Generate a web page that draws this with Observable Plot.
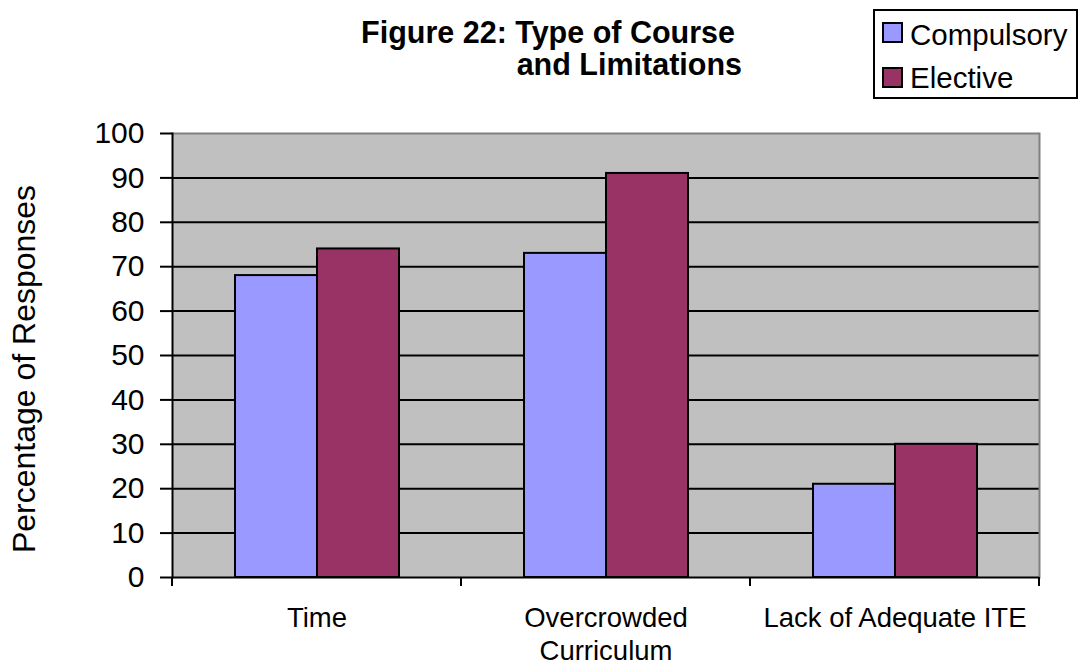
<!DOCTYPE html>
<html>
<head>
<meta charset="utf-8">
<script src="https://cdn.jsdelivr.net/npm/d3@7"></script>
<script src="https://cdn.jsdelivr.net/npm/@observablehq/plot@0.6"></script>
<style>
  body { margin: 0; background: #fff; font-family: Arial, "Liberation Sans", sans-serif; }
  #wrap { position: relative; width: 1080px; height: 663px; overflow: hidden; }
  #chart { position: absolute; left: 0; top: 0; }
  .title { position: absolute; font-weight: bold; font-size: 30.5px; line-height: 34px; white-space: nowrap; color: #000; }
  #legendBox { position: absolute; left: 873px; top: 9px; width: 205px; height: 90px; border: 2px solid #000; background: #fff; box-sizing: border-box; }
  .sw { position: absolute; width: 21px; height: 21px; border: 2px solid #000; box-sizing: border-box; }
  .lgt { position: absolute; font-size: 29.5px; line-height: 30px; white-space: nowrap; color: #000; }
  #ylabel { position: absolute; left: 24px; top: 369px; transform: translate(-50%, -50%) rotate(-90deg); font-size: 32px; white-space: nowrap; }
</style>
</head>
<body>
<div id="wrap">
  <div id="chart"></div>
  <div id="ylabel"></div>
  <div id="titleBox"></div>
  <div id="legendBox"></div>
  <div id="legendItems"></div>
</div>
<script>
const titleLines = ["Figure 22: Type of Course", "and Limitations"];
const yLabel = "Percentage of Responses";
const categories = ["Time", "Overcrowded\nCurriculum", "Lack of Adequate ITE"];
const series = ["Compulsory", "Elective"];
const compulsory = [68, 73, 21];
const elective = [74, 91, 30];
const yTicks = [0, 10, 20, 30, 40, 50, 60, 70, 80, 90, 100];
const colors = ["#9999FF", "#993366"];

const data = categories.flatMap((c, i) => [
  {category: c, series: series[0], value: compulsory[i]},
  {category: c, series: series[1], value: elective[i]}
]);

const plot = Plot.plot({
  width: 1080,
  height: 663,
  marginTop: 133,
  marginBottom: 86,
  marginLeft: 171,
  marginRight: 40,
  style: {fontFamily: "Arial, 'Liberation Sans', sans-serif", color: "#000", background: "transparent", overflow: "visible"},
  fx: {domain: categories, padding: 0, label: null},
  x: {domain: series, paddingInner: 0, paddingOuter: 0.75, axis: null},
  y: {domain: [0, 100], label: null},
  color: {domain: series, range: colors},
  marks: [
    Plot.frame({fill: "#C0C0C0", stroke: "none", shapeRendering: "crispEdges"}),
    Plot.gridY(yTicks.filter(v => v > 0 && v < 100), {stroke: "#000", strokeOpacity: 1, strokeWidth: 2}),
    Plot.ruleY([100], {stroke: "#808080", strokeWidth: 2}),
    Plot.frame({anchor: "right", facetAnchor: "right", stroke: "#808080", strokeWidth: 2}),
    Plot.barY(data, {fx: "category", x: "series", y: "value", fill: "series", stroke: "#000", strokeWidth: 2}),
    Plot.ruleY([0], {stroke: "#000", strokeWidth: 2}),
    Plot.frame({anchor: "left", facetAnchor: "left", stroke: "#000", strokeWidth: 2}),
    Plot.axisY({ticks: yTicks, tickSize: 12, tickPadding: 16, fontSize: 30, stroke: "#000", strokeWidth: 2, label: null}),
    Plot.axisFx({anchor: "bottom", tickSize: 0, tickPadding: 27, fontSize: 27.5, lineHeight: 1.17, label: null})
  ]
});

document.getElementById("chart").appendChild(plot);

// tick marks at the category boundaries, placed with the plot's own scales
const fxS = plot.scale("fx");
const yS = plot.scale("y");
const y0 = yS.apply(0);
const bounds = categories.map(c => fxS.apply(c)).concat([fxS.apply(categories[categories.length - 1]) + fxS.bandwidth]);
d3.select(plot).append("g")
  .attr("stroke", "#000").attr("stroke-width", 2)
  .selectAll("line").data(bounds).join("line")
  .attr("x1", d => d).attr("x2", d => d)
  .attr("y1", y0).attr("y2", y0 + 9);

// title
const tb = document.getElementById("titleBox");
const titleRight = [345, 338];
const titleTop = [15, 47];
titleLines.forEach((t, i) => {
  const d = document.createElement("div");
  d.className = "title";
  d.textContent = t;
  d.style.right = titleRight[i] + "px";
  d.style.top = titleTop[i] + "px";
  tb.appendChild(d);
});

// legend
const li = document.getElementById("legendItems");
const swTop = [22, 67];
const txTop = [20, 63];
series.forEach((s, i) => {
  const sw = document.createElement("div");
  sw.className = "sw";
  sw.style.left = "882px";
  sw.style.top = swTop[i] + "px";
  sw.style.background = colors[i];
  li.appendChild(sw);
  const tx = document.createElement("div");
  tx.className = "lgt";
  tx.style.left = "910px";
  tx.style.top = txTop[i] + "px";
  tx.textContent = s;
  li.appendChild(tx);
});

document.getElementById("ylabel").textContent = yLabel;
</script>
</body>
</html>
